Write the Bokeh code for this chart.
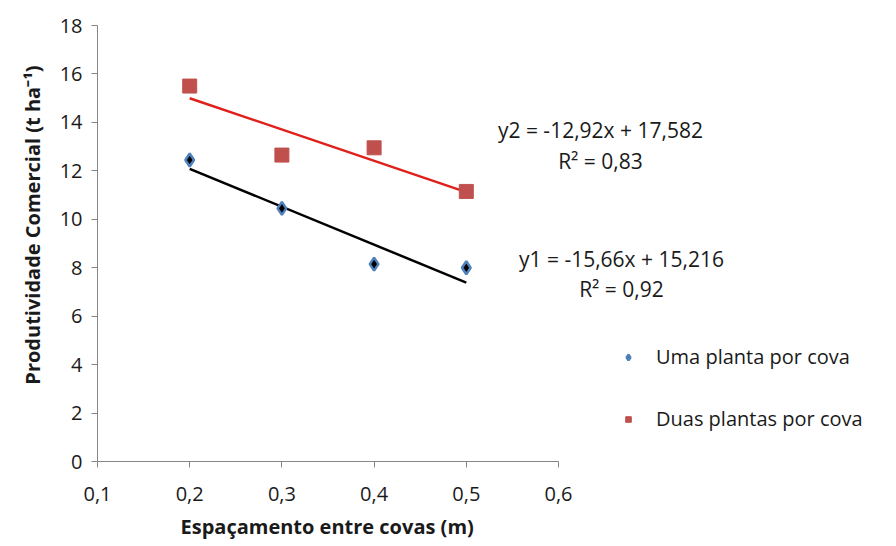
from bokeh.plotting import figure
from bokeh.models import Range1d, FixedTicker, Legend, LegendItem, Label, Title, CustomJSTickFormatter
from bokeh.embed import file_html
from bokeh.resources import INLINE

# Espaçamento entre covas (m)
espacamento = [0.2, 0.3, 0.4, 0.5]
# Produtividade comercial (t/ha)
uma_planta = [12.45, 10.45, 8.15, 8.0]
duas_plantas = [15.5, 12.65, 12.95, 11.15]

# Linear fits (slope, intercept) and R²
fit1 = (-15.66, 15.216, 0.92)
fit2 = (-12.92, 17.582, 0.83)

x_ticks = [0.1, 0.2, 0.3, 0.4, 0.5, 0.6]
y_ticks = [0, 2, 4, 6, 8, 10, 12, 14, 16, 18]

FONT = "Open Sans"
TXT = "#1a1a1a"

# The frame extends to the right edge so the equations and legend sit inside it;
# the x axis itself is bounded to 0.1–0.6.
AXIS_PX = 461
FRAME_PX = 799
x_end = 0.1 + 0.5 * FRAME_PX / AXIS_PX

p = figure(width=896, height=546, output_backend="svg", toolbar_location=None,
           x_range=Range1d(0.1, x_end), y_range=Range1d(0, 18),
           min_border_left=97, min_border_right=0, min_border_top=25, min_border_bottom=85)
p.outline_line_color = None
p.grid.visible = False
p.background_fill_color = "white"

for ax in (p.xaxis[0], p.yaxis[0]):
    ax.axis_line_color = "#868686"
    ax.major_tick_line_color = "#868686"
    ax.minor_tick_line_color = None
    ax.major_tick_in = 0
    ax.major_tick_out = 6
    ax.major_label_text_font = FONT
    ax.major_label_text_font_size = "20px"
    ax.major_label_text_color = TXT

p.xaxis.bounds = (0.1, 0.6)
p.xaxis.ticker = FixedTicker(ticks=x_ticks)
p.yaxis.ticker = FixedTicker(ticks=y_ticks)
p.xaxis.formatter = CustomJSTickFormatter(code="return tick.toFixed(1).replace('.', ',');")
p.yaxis.formatter = CustomJSTickFormatter(code="return tick.toFixed(0);")
p.xaxis.major_label_standoff = 19
p.yaxis.major_label_standoff = 9

# Axis titles
p.add_layout(Title(text="Espaçamento entre covas (m)", align="left", offset=83, standoff=14,
                   text_font=FONT, text_font_style="bold", text_font_size="20px",
                   text_color=TXT), "below")
p.add_layout(Title(text="Produtividade Comercial (t ha⁻¹)", align="right", offset=40, standoff=22,
                   text_font=FONT, text_font_style="bold", text_font_size="20px",
                   text_color=TXT), "left")

# Trend lines from the fitted coefficients
xs_fit = [min(espacamento), max(espacamento)]
p.line(xs_fit, [fit1[0] * x + fit1[1] for x in xs_fit], line_color="#000000", line_width=2.5)
p.line(xs_fit, [fit2[0] * x + fit2[1] for x in xs_fit], line_color="#e0201b", line_width=2.5)

r1 = p.scatter(espacamento, uma_planta, marker="diamond", size=13, fill_color="#000000",
               line_color="#4f81bd", line_width=2.5)
r2 = p.scatter(espacamento, duas_plantas, marker="square", size=14, fill_color="#c0504d",
               line_color="#c0504d", line_width=1)


def num(v, d):
    return f"{v:.{d}f}".replace(".", ",")


eq2 = f"y2 = {num(fit2[0], 2)}x + {num(fit2[1], 3)}"
eq1 = f"y1 = {num(fit1[0], 2)}x + {num(fit1[1], 3)}"
for text, x, y in [(eq2, 0.6455, 13.67), (f"R² = {num(fit2[2], 2)}", 0.6455, 12.39),
                   (eq1, 0.6683, 8.38), (f"R² = {num(fit1[2], 2)}", 0.6683, 7.14)]:
    p.add_layout(Label(x=x, y=y, text=text, text_align="center", text_baseline="middle",
                       text_font=FONT, text_font_size="21px", text_color=TXT))

legend = Legend(items=[LegendItem(label="Uma planta por cova", renderers=[r1]),
                       LegendItem(label="Duas plantas por cova", renderers=[r2])],
                location=(524, 29), orientation="vertical",
                label_text_font=FONT, label_text_font_size="20px", label_text_color=TXT,
                glyph_width=14, glyph_height=14, label_standoff=21, spacing=35,
                border_line_color=None, background_fill_alpha=0, padding=0, margin=0)
p.add_layout(legend, "center")

open("out.html", "w").write(file_html(p, INLINE))
